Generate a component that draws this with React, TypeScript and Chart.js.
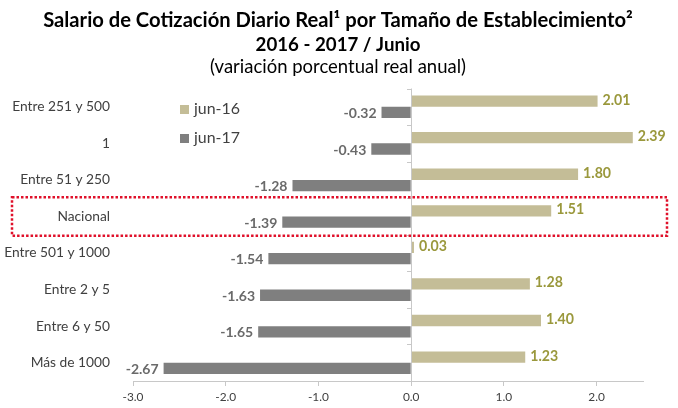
import React, { useEffect, useRef } from "react";
import { Chart, registerables } from "chart.js";

Chart.register(...registerables);

const categories = [
  "Entre 251 y 500",
  "1",
  "Entre 51 y 250",
  "Nacional",
  "Entre 501 y 1000",
  "Entre 2 y 5",
  "Entre 6 y 50",
  "Más de 1000",
];
const seriesNames = ["jun-16", "jun-17"];
const jun16 = [2.01, 2.39, 1.8, 1.51, 0.03, 1.28, 1.4, 1.23];
const jun17 = [-0.32, -0.43, -1.28, -1.39, -1.54, -1.63, -1.65, -2.67];
const xTicks = [-3, -2, -1, 0, 1, 2];
const highlighted = "Nacional";

const titleLine1 = "Salario de Cotización Diario Real¹ por Tamaño de Establecimiento²";
const titleLine2 = "2016 - 2017 / Junio";
const subtitleText = "(variación porcentual real anual)";

const FONT = "Lato, 'Open Sans', sans-serif";
const TAN = "#c4bd97";
const GRAY = "#7f7f7f";
const AXIS = "#c8c8c8";

function fitSize(text: string, weight: string, target: number) {
  const c = document.createElement("canvas").getContext("2d")!;
  c.font = `${weight} 100px ${FONT}`;
  return (100 * target) / c.measureText(text).width;
}

export default function App() {
  const ref = useRef<HTMLCanvasElement>(null);
  useEffect(() => {
    document.body.style.margin = "0";
    const s1 = fitSize(titleLine1, "bold", 590);
    const s2 = fitSize(titleLine2, "bold", 165);
    const s3 = fitSize(subtitleText, "normal", 256);
    const sY = fitSize("Entre 501 y 1000", "normal", 106);
    const sLeg = fitSize("jun-16", "normal", 46);
    const sLabPos = fitSize("2.01", "bold", 28);
    const sLabNeg = fitSize("-0.32", "bold", 33);
    const sX = fitSize("-3.0", "normal", 21);

    const extrasPlugin = {
      id: "extras",
      afterDatasetsDraw(chart: any) {
        const ctx = chart.ctx;
        const area = chart.chartArea;
        const xs = chart.scales.x;
        const ys = chart.scales.y;
        ctx.save();
        // titles
        ctx.fillStyle = "#000";
        ctx.textAlign = "center";
        ctx.textBaseline = "alphabetic";
        ctx.font = `bold ${s1}px ${FONT}`;
        ctx.fillText(titleLine1, 338, 27);
        ctx.font = `bold ${s2}px ${FONT}`;
        ctx.fillText(titleLine2, 338, 51);
        ctx.font = `${s3}px ${FONT}`;
        ctx.fillText(subtitleText, 338, 73);

        // zero axis line with category boundary ticks
        const x0 = Math.round(xs.getPixelForValue(0)) + 0.5;
        ctx.strokeStyle = AXIS;
        ctx.lineWidth = 1;
        ctx.beginPath();
        ctx.moveTo(x0, area.top);
        ctx.lineTo(x0, area.bottom);
        const n = categories.length;
        const step = (area.bottom - area.top) / n;
        for (let i = 0; i <= n; i++) {
          const y = Math.round(area.top + i * step) + 0.5;
          ctx.moveTo(x0, y);
          ctx.lineTo(x0 - 4.5, y);
        }
        ctx.stroke();

        // data labels
        chart.data.datasets.forEach((ds: any, di: number) => {
          const meta = chart.getDatasetMeta(di);
          meta.data.forEach((el: any, i: number) => {
            const v = ds.data[i];
            const txt = v.toFixed(2);
            ctx.textBaseline = "middle";
            if (v >= 0) {
              ctx.font = `bold ${sLabPos}px ${FONT}`;
              ctx.fillStyle = "#9a983c";
              ctx.textAlign = "left";
              ctx.fillText(txt, el.x + 5, el.y - 1);
            } else {
              ctx.font = `bold ${sLabNeg}px ${FONT}`;
              ctx.fillStyle = "#6a6a6a";
              ctx.textAlign = "right";
              ctx.fillText(txt, el.x - 5, el.y + 1);
            }
          });
        });

        // legend
        const lx = 180;
        const ly = [109, 138];
        chart.data.datasets.forEach((ds: any, di: number) => {
          ctx.fillStyle = ds.backgroundColor;
          ctx.fillRect(lx, ly[di] - 4, 9, 9);
          ctx.fillStyle = "#404040";
          ctx.font = `${sLeg}px ${FONT}`;
          ctx.textAlign = "left";
          ctx.textBaseline = "middle";
          ctx.fillText(ds.label, lx + 14, ly[di]);
        });

        // highlight box
        const idx = categories.indexOf(highlighted);
        const cy = ys.getPixelForValue(idx);
        ctx.strokeStyle = "#e0102a";
        ctx.lineWidth = 2.5;
        ctx.setLineDash([2.5, 2]);
        ctx.strokeRect(12, cy - step / 2 - 1, 655, step + 2);
        ctx.restore();
      },
    };

    const chart = new Chart(ref.current!, {
      type: "bar",
      data: {
        labels: categories,
        datasets: [
          { label: seriesNames[0], data: jun16, backgroundColor: TAN },
          { label: seriesNames[1], data: jun17, backgroundColor: GRAY },
        ],
      },
      plugins: [extrasPlugin],
      options: {
        indexAxis: "y",
        responsive: false,
        animation: false,
        datasets: { bar: { barPercentage: 1, categoryPercentage: 0.62 } },
        layout: { padding: { left: 0, right: 35, top: 88.5, bottom: 0 } },
        plugins: {
          legend: { display: false },
          tooltip: { enabled: false },
          title: { display: false },
        },
        scales: {
          x: {
            min: -3,
            max: 2.5,
            afterBuildTicks: (s: any) => {
              s.ticks = xTicks.map((v) => ({ value: v }));
            },
            afterFit: (s: any) => {
              s.height = 27;
            },
            grid: { drawOnChartArea: false, drawTicks: true, tickLength: 5, color: AXIS },
            border: { display: true, color: AXIS },
            ticks: {
              color: "#404040",
              font: { family: FONT, size: sX },
              padding: 4,
              callback: (v: any) => Number(v).toFixed(1),
            },
          },
          y: {
            afterFit: (s: any) => {
              s.width = 133;
            },
            grid: { display: false },
            border: { display: false },
            ticks: {
              color: "#404040",
              font: { family: FONT, size: sY },
              padding: 15,
            },
          },
        },
      },
    } as any);
    return () => chart.destroy();
  }, []);
  return <canvas ref={ref} width={678} height={408} />;
}
